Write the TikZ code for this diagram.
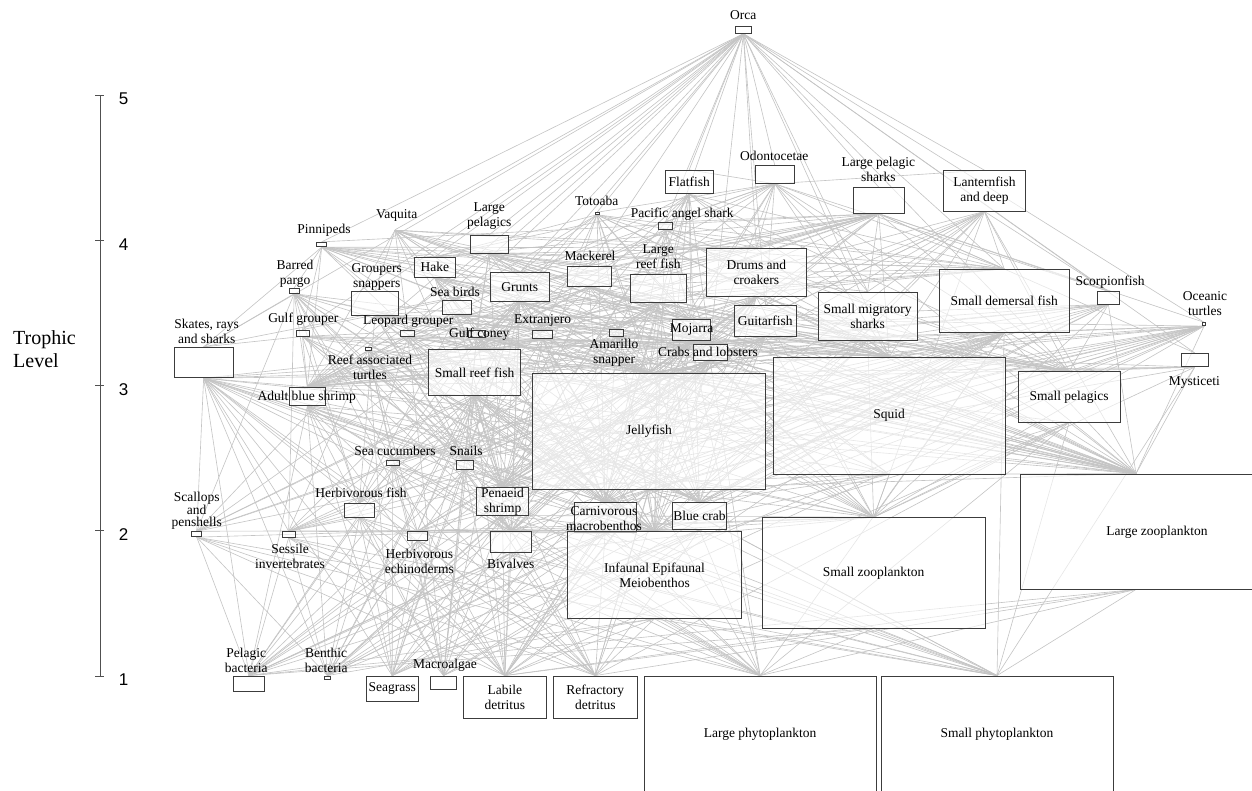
\documentclass[tikz,border=0pt]{standalone}
\usepackage{fontspec}
\setmainfont{Liberation Serif}
\newfontfamily\axisfont{Liberation Sans}
\usetikzlibrary{backgrounds}
\definecolor{edgec}{RGB}{196,196,196}
\definecolor{boxc}{RGB}{60,60,60}
\definecolor{axisc}{RGB}{80,80,80}
\definecolor{boxfill}{RGB}{255,255,255}
\newcommand\lblfont{\fontsize{13.5}{15}\selectfont}
\newcommand\bx[6]{\node[box, minimum width={(#4-#2)*1pt}, minimum height={(#5-#3)*1pt}] (#1) at ({(#2+#4)/2},{(#3+#5)/2}) {#6};}
\newcommand\feeds[2]{\foreach \q in {#2}{\draw[edge] (#1.south) -- (\q.north);}}
\begin{document}
\begin{tikzpicture}[x=1pt,y=-1pt,
  box/.style={draw=boxc, line width=0.9pt, fill=boxfill, fill opacity=0.6, text opacity=1, inner sep=0pt, align=center, font=\lblfont},
  lbl/.style={inner sep=0pt, align=center, font=\lblfont},
  edge/.style={draw=edgec, line width=0.62pt},
  axisline/.style={draw=axisc, line width=0.9pt},
  ticklbl/.style={inner sep=0pt, font=\axisfont\fontsize{17}{17}\selectfont}]
\useasboundingbox (0,0) rectangle (1252,790);
\clip (0,0) rectangle (1252,790);
% ---------------- axis
\node[inner sep=0pt, minimum size=0pt] (axTop) at (100,95) {};
\node[inner sep=0pt, minimum size=0pt] (axBot) at (100,676) {};
\draw[axisline] (axTop) -- (axBot);
\foreach \v/\yy in {5/95,4/240.25,3/385.5,2/530.75,1/676}{
  \draw[axisline] (95,\yy) -- (104,\yy);
  \node[ticklbl] (tick\v) at (123.5,\yy+4) {\v};
}
\node[inner sep=0pt, align=left, anchor=west, font=\fontsize{20}{23}\selectfont] (ytitle) at (13,349) {Trophic\\Level};
% ---------------- boxes
\bx{orca}{735}{26.7}{751.7}{33.3}{}
\bx{odon}{755.3}{165.3}{794}{183.3}{}
\bx{flat}{665}{170.3}{713.3}{193.7}{Flatfish}
\bx{lps}{853.3}{187.7}{904.3}{213.3}{}
\bx{lant}{943.3}{170.7}{1025.7}{211}{Lanternfish\\and deep}
\bx{tot}{595}{212.7}{599}{214.3}{}
\bx{pas}{658.3}{222.7}{672.3}{229.3}{}
\node[inner sep=0pt, minimum size=0pt] (vaq) at (395,230) {};
\bx{pinn}{316.7}{242.3}{326.7}{246.7}{}
\bx{lpel}{470}{235.3}{508.3}{253.3}{}
\bx{hake}{414.3}{257.3}{455.3}{277.3}{Hake}
\bx{bpargo}{289}{288.3}{299.3}{293.3}{}
\bx{grsn}{351.7}{291.7}{398.3}{315}{}
\bx{sbird}{442.3}{300.3}{471.3}{314.3}{}
\bx{grunts}{490.7}{272.7}{549}{301}{Grunts}
\bx{mack}{567.3}{266}{611}{286.7}{}
\bx{lreef}{630.7}{274.3}{686}{302.3}{}
\bx{drums}{706.7}{248.3}{806}{296.7}{Drums and\\croakers}
\bx{guitar}{734.7}{305.7}{796}{336}{Guitarfish}
\bx{sms}{818.3}{292}{917}{340}{Small migratory\\sharks}
\bx{sdem}{939.3}{269.3}{1069}{332.7}{Small demersal fish}
\bx{scorp}{1097.3}{291.7}{1119.3}{304}{}
\bx{oturt}{1202.3}{322.7}{1205.7}{325.7}{}
\bx{myst}{1181}{353.3}{1208.3}{366.7}{}
\bx{ggrp}{296}{330}{309}{336}{}
\bx{lgrp}{400.7}{330}{414.7}{336}{}
\bx{gconey}{468.3}{330}{485}{337.3}{}
\bx{extr}{532.7}{330}{552.7}{338.3}{}
\bx{amar}{609.3}{329.3}{623.3}{336.7}{}
\bx{mojarra}{672.3}{319}{710}{340}{}
\bx{crabs}{693}{344}{727}{360}{}
\bx{skates}{174}{347.3}{233.3}{377.7}{}
\bx{rturt}{365}{347}{371}{350}{}
\bx{sreef}{428.3}{349.3}{520.7}{395.7}{Small reef fish}
\bx{abs}{289}{387.3}{325.7}{405.7}{}
\bx{jelly}{532.7}{373.3}{765.3}{489}{Jellyfish}
\bx{squid}{773.3}{357}{1005}{474}{Squid}
\bx{spel}{1018.3}{371.7}{1120}{422}{Small pelagics}
\bx{seacuc}{386.3}{460.7}{399.3}{465.3}{}
\bx{snails}{456}{460.7}{473.3}{469}{}
\bx{hfish}{344.3}{503.3}{374.3}{517.3}{}
\bx{penaeid}{476.7}{489}{528.3}{513.7}{Penaeid\\shrimp}
\bx{scallops}{191.7}{531.7}{201.7}{536.7}{}
\bx{sessile}{282}{531.7}{295.3}{537.3}{}
\bx{hechino}{407.3}{531.7}{427.3}{540.7}{}
\bx{bival}{490.7}{531.7}{531.7}{552.3}{}
\bx{carn}{574.3}{502.7}{636}{532.7}{}
\bx{bcrab}{672.3}{502.7}{726.7}{529.3}{Blue crab}
\bx{infa}{567.3}{531.7}{741.7}{618.3}{Infaunal Epifaunal\\Meiobenthos}
\bx{szoo}{762.3}{517.7}{985}{628}{Small zooplankton}
\bx{lzoo}{1020}{474}{1252}{589}{}
\bx{pbact}{233.3}{676}{264.7}{691.3}{}
\bx{bbact}{324}{676}{330.7}{679.3}{}
\bx{seagrass}{366.3}{676}{418}{701}{Seagrass}
\bx{malgae}{430.7}{676}{456.3}{689.3}{}
\bx{ldet}{463}{676}{546.7}{718}{Labile\\detritus}
\bx{rdet}{553.3}{676}{637.3}{718}{Refractory\\detritus}
\bx{lphyto}{644.3}{676}{876}{792}{Large phytoplankton}
\bx{sphyto}{881}{676}{1113}{792}{Small phytoplankton}
% ---------------- outside labels
\node[lbl] (orcaL) at (743.3,15) {Orca};
\node[lbl] (odonL) at (774.3,155.7) {Odontocetae};
\node[lbl] (lpsL) at (878.3,169) {Large pelagic\\sharks};
\node[lbl] (totL) at (596.7,200.7) {Totoaba};
\node[lbl] (pasL) at (682.3,214.3) {Pacific angel shark};
\node[lbl] (vaqL) at (396.7,215) {Vaquita};
\node[lbl] (pinnL) at (324,230) {Pinnipeds};
\node[lbl] (lpelL) at (489.3,216) {Large\\pelagics};
\node[lbl] (bpargoL) at (295,274) {Barred\\pargo};
\node[lbl] (grsnL) at (376.7,276.7) {Groupers\\snappers};
\node[lbl] (sbirdL) at (455,291.7) {Sea birds};
\node[lbl] (mackL) at (590,255.7) {Mackerel};
\node[lbl] (lreefL) at (658.3,256.5) {Large\\reef fish};
\node[lbl] (scorpL) at (1110,281.7) {Scorpionfish};
\node[lbl] (oturtL) at (1205,303.3) {Oceanic\\turtles};
\node[lbl] (mystL) at (1194.3,382.3) {Mysticeti};
\node[lbl] (ggrpL) at (303.3,319) {Gulf grouper};
\node[lbl] (lgrpL) at (408.3,321.7) {Leopard grouper};
\node[lbl] (gconeyL) at (479.3,334) {Gulf coney};
\node[lbl] (extrL) at (542.7,320) {Extranjero};
\node[lbl] (amarL) at (614,352.5) {Amarillo\\snapper};
\node[lbl] (mojarraL) at (691.7,329.3) {Mojarra};
\node[lbl] (crabsL) at (708,352) {Crabs and lobsters};
\node[lbl] (skatesL) at (206.7,331) {Skates, rays\\and sharks};
\node[lbl] (rturtL) at (370,367) {Reef associated\\turtles};
\node[lbl] (absL) at (306.7,397.7) {Adult blue shrimp};
\node[lbl] (seacucL) at (395,450.7) {Sea cucumbers};
\node[lbl] (snailsL) at (466,450.7) {Snails};
\node[lbl] (hfishL) at (361,492.7) {Herbivorous fish};
\node[lbl, font=\fontsize{13.5}{11.8}\selectfont] (scallopsL) at (196.7,510.8) {Scallops\\and\\penshells};
\node[lbl] (sessileL) at (290,556.7) {Sessile\\invertebrates};
\node[lbl] (hechinoL) at (419.3,561.3) {Herbivorous\\echinoderms};
\node[lbl] (bivalL) at (510.7,564) {Bivalves};
\node[lbl] (carnL) at (604,518.7) {Carnivorous\\macrobenthos};
\node[lbl] (lzooL) at (1157,532) {Large zooplankton};
\node[lbl] (pbactL) at (246.3,660.3) {Pelagic\\bacteria};
\node[lbl] (bbactL) at (326.2,660.3) {Benthic\\bacteria};
\node[lbl] (malgaeL) at (445,665.7) {Macroalgae};
% ---------------- trophic links (predator bottom -> prey top)
\begin{pgfonlayer}{background}
\feeds{orca}{pinn,vaq,lpel,tot,odon,lps,sms,skates,myst,oturt,lant,sdem,squid,spel,mack,drums,lreef,hake,flat,grunts,sbird,pas,guitar,scorp,grsn,rturt,sreef,crabs,ggrp,lgrp}
\feeds{odon}{squid,spel,lant,sdem,mack,hake,drums,grunts,flat,lreef,scorp,sms,tot,pas,guitar,mojarra,crabs,sreef,lzoo,jelly}
\feeds{lps}{sms,skates,squid,spel,mack,hake,drums,sdem,scorp,guitar,oturt,pinn,grunts,sreef,crabs,myst,pas,lreef,ggrp,lgrp,rturt,jelly,extr,amar,gconey}
\feeds{lant}{squid,sdem,spel,lzoo,szoo,jelly,scorp,crabs,mojarra,abs,penaeid,guitar,sms,carn,bcrab,infa}
\feeds{flat}{sdem,spel,squid,penaeid,crabs,carn,infa,bcrab,mojarra,sreef,abs,hfish,snails,bival,lzoo,jelly}
\feeds{tot}{sdem,spel,penaeid,crabs,bcrab,mojarra,sreef,squid,abs,lzoo,carn,infa,drums,grunts,hake,jelly,extr}
\feeds{pas}{sdem,spel,squid,crabs,penaeid,sreef,mojarra,carn,abs,bcrab,lzoo,infa}
\feeds{vaq}{sdem,squid,spel,drums,grunts,mojarra,hake,crabs,sreef,gconey,extr,lgrp,abs,penaeid,grsn,jelly,lzoo}
\feeds{pinn}{spel,sdem,squid,hake,mack,drums,grunts,sreef,skates,ggrp,bpargo,grsn,sbird,lgrp,mojarra,crabs,abs,jelly,lzoo}
\feeds{lpel}{spel,squid,mack,sdem,lzoo,jelly,sreef,extr,hake,sms,grunts,drums,lreef,mojarra,penaeid,crabs,amar,gconey,abs}
\feeds{hake}{sdem,spel,squid,penaeid,lzoo,crabs,mojarra,abs,sreef,carn,szoo,jelly,bcrab,infa}
\feeds{bpargo}{sreef,crabs,penaeid,carn,infa,snails,bival,abs,bcrab,sessile,scallops,hfish,seacuc,hechino,skates,lzoo,jelly}
\feeds{grsn}{sreef,crabs,penaeid,carn,bcrab,mojarra,sdem,squid,abs,hfish,snails,gconey,extr,amar,jelly,infa,lzoo,bival}
\feeds{sbird}{spel,sdem,squid,lzoo,sreef,mojarra,hfish,jelly,penaeid,abs,crabs,szoo}
\feeds{grunts}{carn,infa,penaeid,bival,snails,lzoo,szoo,crabs,bcrab,abs,sreef,seacuc,hechino,sessile,scallops,ldet,malgae,seagrass,bbact,jelly}
\feeds{mack}{spel,sdem,lzoo,squid,szoo,jelly,penaeid,sreef,abs,mojarra,crabs,carn}
\feeds{lreef}{sreef,crabs,bcrab,penaeid,carn,abs,mojarra,squid,spel,sdem,snails,scallops,seacuc,gconey,amar,hfish,jelly,lzoo,infa,bival}
\feeds{drums}{penaeid,carn,infa,bcrab,crabs,abs,lzoo,bival,szoo,snails,jelly,mojarra,squid,spel,hechino,seacuc,ldet,bbact,sreef}
\feeds{guitar}{crabs,penaeid,carn,infa,bcrab,abs,bival,snails,spel,squid,scallops,hechino,szoo,lzoo,ldet}
\feeds{sms}{spel,squid,crabs,penaeid,carn,bcrab,abs,jelly,sreef,lzoo,infa,mojarra,szoo}
\feeds{sdem}{lzoo,szoo,carn,infa,penaeid,bival,ldet,jelly,snails,abs,bcrab,hechino,seacuc,sessile,pbact,bbact,seagrass,malgae,lphyto,sphyto}
\feeds{scorp}{crabs,penaeid,carn,infa,bcrab,spel,abs,sreef,squid,lzoo,mojarra,jelly,szoo}
\feeds{oturt}{jelly,lzoo,squid,crabs,spel,carn,infa,seagrass,malgae,bcrab,penaeid,snails,bival,sessile,szoo,scallops,hechino,seacuc,abs,sreef,mojarra}
\feeds{myst}{lzoo,szoo,spel,squid,penaeid,abs,jelly,sphyto}
\feeds{ggrp}{sreef,crabs,squid,penaeid,mojarra,bcrab,abs,hfish,snails,carn,jelly,skates,lzoo,infa,bival}
\feeds{lgrp}{sreef,crabs,penaeid,carn,bcrab,abs,mojarra,hfish,snails,squid,infa,lzoo,jelly,malgae}
\feeds{gconey}{sreef,crabs,penaeid,carn,abs,bcrab,infa,snails,hfish,lzoo,jelly,malgae}
\feeds{extr}{sreef,crabs,penaeid,carn,abs,mojarra,bcrab,infa,snails,bival,squid,jelly,lzoo}
\feeds{amar}{crabs,penaeid,carn,abs,bcrab,infa,squid,lzoo,jelly,szoo}
\feeds{mojarra}{infa,carn,lzoo,szoo,bival,ldet,snails,penaeid,bbact,sessile,malgae,seagrass,pbact,lphyto,rdet}
\feeds{crabs}{infa,carn,bival,snails,seacuc,ldet,rdet,malgae,scallops,sessile,hechino,bbact,penaeid,lzoo,seagrass,pbact,lphyto,szoo}
\feeds{skates}{penaeid,crabs,bcrab,carn,infa,abs,bival,scallops,sessile,snails,seacuc,hechino,lzoo,squid,hfish,sreef,szoo,jelly,pbact,bbact,seagrass,ldet,malgae,rdet}
\feeds{rturt}{seagrass,malgae,sessile,jelly,scallops,snails,seacuc,hechino,bival,carn,infa,bcrab,penaeid,abs,lzoo}
\feeds{sreef}{lzoo,szoo,carn,infa,hechino,malgae,ldet,bival,snails,sessile,penaeid,abs,seagrass,scallops,bcrab,lphyto,sphyto,bbact,pbact,rdet}
\feeds{abs}{infa,ldet,rdet,szoo,lzoo,pbact,bbact,malgae,carn,sphyto,lphyto,seagrass,bival}
\feeds{jelly}{lzoo,szoo,lphyto,sphyto,pbact,ldet,bbact,rdet,infa}
\feeds{squid}{lzoo,szoo,penaeid,jelly,abs,crabs,sreef,carn,infa,bcrab,mojarra}
\feeds{spel}{lzoo,szoo,lphyto,sphyto,ldet,jelly,pbact,rdet}
\feeds{seacuc}{ldet,rdet,bbact,infa,malgae,pbact,seagrass,lphyto,sphyto}
\feeds{snails}{malgae,seagrass,ldet,infa,bival,sessile,bbact,rdet,lphyto,pbact}
\feeds{hfish}{malgae,seagrass,ldet,lphyto,sessile,rdet,bbact,sphyto,pbact}
\feeds{penaeid}{infa,ldet,rdet,szoo,bbact,lphyto,malgae,pbact,seagrass,sphyto}
\feeds{scallops}{lphyto,sphyto,ldet,pbact,szoo,bbact,rdet}
\feeds{sessile}{lphyto,sphyto,szoo,ldet,pbact,bbact,rdet}
\feeds{hechino}{malgae,seagrass,ldet,bbact,rdet,pbact}
\feeds{bival}{lphyto,sphyto,ldet,rdet,pbact,szoo,bbact}
\feeds{carn}{ldet,bbact,szoo,bival,sessile,rdet,pbact,lphyto,sphyto,seagrass}
\feeds{bcrab}{bival,snails,ldet,rdet,malgae,seagrass,scallops,hechino,lphyto,sphyto,bbact}
\feeds{infa}{ldet,rdet,bbact,pbact,lphyto,sphyto}
\feeds{szoo}{sphyto,lphyto,pbact,ldet}
\feeds{lzoo}{lphyto,sphyto,ldet,pbact,rdet}
\end{pgfonlayer}
\end{tikzpicture}
\end{document}
